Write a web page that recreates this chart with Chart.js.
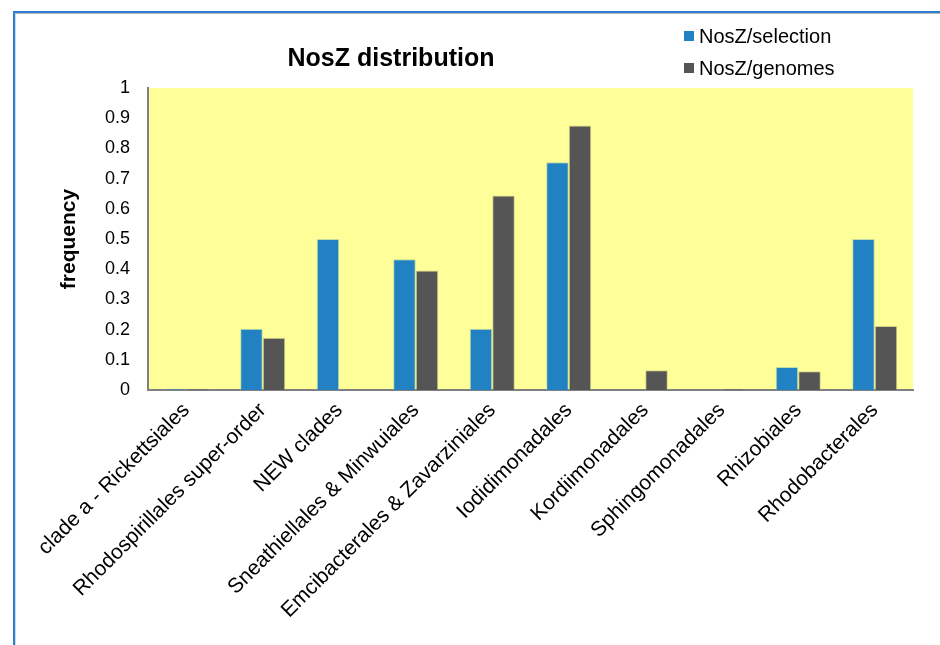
<!DOCTYPE html>
<html>
<head>
<meta charset="utf-8">
<script src="https://cdn.jsdelivr.net/npm/chart.js@4/dist/chart.umd.min.js"></script>
<style>
  html, body { margin: 0; padding: 0; background: #fff; }
  #wrap { position: relative; width: 940px; height: 645px; }
  #frame { position: absolute; left: 13px; top: 11px; right: 0; bottom: 0;
           border-left: 2px solid #2d7fd3; border-top: 2px solid #2d7fd3; pointer-events: none; }
  #frameInner { position: absolute; left: 0; top: 0; right: 0; bottom: 0;
           border-top: 1px solid #b8b8b8; border-left: 1px solid #d8d8d8; }
  canvas { position: absolute; left: 0; top: 0; }
</style>
</head>
<body>
<div id="wrap">
  <canvas id="c" width="940" height="645"></canvas>
  <div id="frame"><div id="frameInner"></div></div>
</div>
<script>
const categories = [
  "clade a - Rickettsiales",
  "Rhodospirillales super-order",
  "NEW clades",
  "Sneathiellales & Minwuiales",
  "Emcibacterales & Zavarziniales",
  "Iodidimonadales",
  "Kordiimonadales",
  "Sphingomonadales",
  "Rhizobiales",
  "Rhodobacterales"
];
const selectionValues = [0.003, 0.203, 0.5, 0.433, 0.203, 0.754, 0, 0, 0.076, 0.5];
const genomesValues   = [0.003, 0.173, 0, 0.396, 0.644, 0.876, 0.065, 0.003, 0.062, 0.212];
const seriesNames = ["NosZ/selection", "NosZ/genomes"];
const yTickLabels = ["0", "0.1", "0.2", "0.3", "0.4", "0.5", "0.6", "0.7", "0.8", "0.9", "1"];
const chartTitle = "NosZ distribution";
const yAxisTitle = "frequency";

const FONT = "'Liberation Sans', Arial, sans-serif";

const bgPlugin = {
  id: 'plotBg',
  beforeDraw(chart) {
    const { ctx, chartArea: a } = chart;
    ctx.save();
    ctx.fillStyle = '#FFFF99';
    ctx.fillRect(a.left, a.top, a.right - a.left, a.bottom - a.top);
    ctx.restore();
  }
};

const decoPlugin = {
  id: 'deco',
  afterDraw(chart) {
    const { ctx } = chart;
    ctx.save();
    ctx.fillStyle = '#000';
    ctx.font = "bold 25px " + FONT;
    ctx.textAlign = 'center';
    ctx.textBaseline = 'middle';
    ctx.fillText(chartTitle, 391, 59);
    ctx.font = "20px " + FONT;
    ctx.textAlign = 'left';
    chart.data.datasets.forEach((ds, i) => {
      const y = 36 + i * 32;
      ctx.fillStyle = ds.backgroundColor;
      ctx.fillRect(684, y - 5, 10, 10);
      ctx.fillStyle = '#000';
      ctx.fillText(ds.label, 699, y + 1);
    });
    ctx.restore();
  }
};

new Chart(document.getElementById('c'), {
  type: 'bar',
  data: {
    labels: categories,
    datasets: [
      { label: seriesNames[0], data: selectionValues, backgroundColor: '#2181C2',
        borderColor: 'rgba(150,200,170,0.6)', borderWidth: 1, borderSkipped: 'bottom' },
      { label: seriesNames[1], data: genomesValues, backgroundColor: '#555555',
        borderColor: 'rgba(170,170,120,0.5)', borderWidth: 1, borderSkipped: 'bottom' }
    ]
  },
  options: {
    responsive: false,
    animation: false,
    devicePixelRatio: 1,
    layout: { padding: { top: 88, right: 27, left: 40, bottom: 0 } },
    datasets: { bar: { categoryPercentage: 0.59, barPercentage: 1 } },
    plugins: {
      legend: { display: false },
      title: { display: false },
      tooltip: { enabled: false }
    },
    scales: {
      x: {
        grid: { display: false, drawTicks: false },
        border: { display: true, color: '#808080', width: 2 },
        ticks: {
          color: '#000', font: { family: FONT, size: 21 },
          maxRotation: 45, minRotation: 45, autoSkip: false, padding: 8
        },
        afterFit(scale) { scale.height = 255; }
      },
      y: {
        min: 0, max: 1,
        grid: { display: false, drawTicks: false },
        border: { display: true, color: '#808080', width: 2 },
        ticks: {
          stepSize: 0.1, color: '#000', font: { family: FONT, size: 18 }, padding: 18,
          callback: (v) => yTickLabels[Math.round(v * 10)]
        },
        title: {
          display: true, text: yAxisTitle, color: '#000',
          font: { family: FONT, size: 21, weight: 'bold' }, padding: { top: 17, bottom: 0 }
        },
        afterFit(scale) { scale.width = 108; }
      }
    }
  },
  plugins: [bgPlugin, decoPlugin]
});
</script>
</body>
</html>
